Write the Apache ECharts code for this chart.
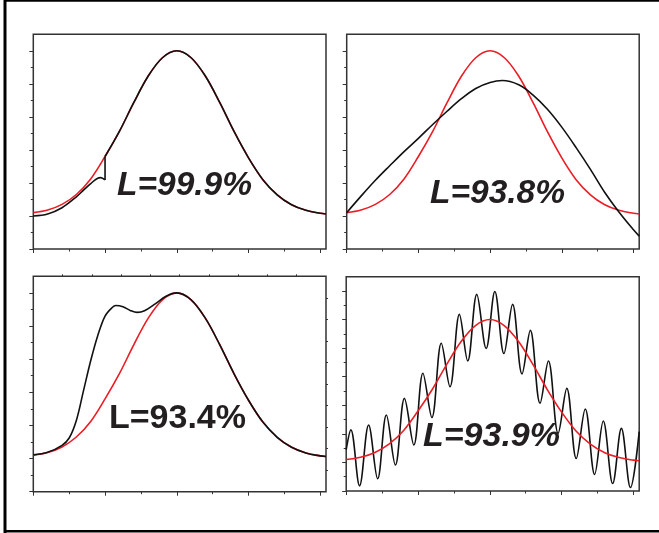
<!DOCTYPE html>
<html><head><meta charset="utf-8">
<script src="https://cdn.jsdelivr.net/npm/echarts@6/dist/echarts.min.js"></script>
<style>html,body{margin:0;padding:0;background:#fff}#c{width:659px;height:533px}</style>
</head><body><div id="c"></div>
<script>
// ---- shared x grid and reference (red) curve ----
const xs     = [0,0.2,0.4,0.6,0.8,1.0,1.2,1.4,1.6,1.8,2.0,2.2,2.4,2.6,2.8,3.0,3.2,3.4,3.6,3.8,4.0,4.08];
const redRef = [1.10,1.18,1.35,1.65,2.12,2.80,3.56,4.43,5.23,5.79,6.00,5.79,5.23,4.43,3.55,2.76,2.10,1.64,1.34,1.17,1.08,1.06];

// ---- panel 1 black (left deviating part) ----
const p1BlackX = [0,0.2,0.4,0.6,0.7,0.8,0.88,0.94,1.0];
const p1BlackY = [1.00,1.06,1.25,1.58,1.78,1.98,2.12,2.16,2.09];

// ---- panel 2 black ----
const p2BlackX = [0,0.2,0.4,0.6,0.8,1.0,1.2,1.4,1.6,1.8,2.0,2.17,2.4,2.6,2.8,3.0,3.2,3.4,3.6,3.8,4.0,4.08];
const p2BlackY = [1.10,1.60,2.08,2.52,2.95,3.35,3.77,4.17,4.55,4.86,5.04,5.10,4.97,4.66,4.23,3.69,3.07,2.41,1.71,1.11,0.58,0.39];

// ---- panel 3 black (left deviating part, joins red at x=2) ----
const p3BlackX = [0,0.2,0.4,0.5,0.6,0.7,0.8,0.9,1.0,1.1,1.15,1.25,1.35,1.45,1.55,1.7,1.85,2.0];
const p3BlackY = [1.11,1.19,1.40,1.62,2.15,3.05,3.95,4.72,5.30,5.56,5.62,5.58,5.47,5.41,5.46,5.67,5.90,6.00];

// ---- panel 4 black (oscillation extremes) ----
const p4BlackX = [0,0.065,0.186,0.312,0.438,0.559,0.685,0.811,0.942,1.068,1.193,1.324,1.445,1.576,1.692,1.818,1.949,2.070,2.196,2.317,2.448,2.564,2.699,2.816,2.951,3.072,3.203,3.329,3.459,3.580,3.711,3.832,3.958,4.08];
const p4BlackY = [1.45,2.14,0.18,2.31,0.43,2.66,0.91,3.24,1.61,4.12,2.57,5.17,3.65,6.18,4.55,6.88,4.99,6.98,4.81,6.53,4.10,5.62,3.07,4.55,2.02,3.59,1.14,2.87,0.58,2.45,0.26,2.19,0.12,2.08];

// ---- ticks ----
const xMajor = [0,1,2,3,4];
const xMinor = [0.5,1.5,2.5,3.5];
const yMajorA = [0,1,2,3,4,5,6];
const yMinorA = [0.5,1.5,2.5,3.5,4.5,5.5];
const yMajorB = [0,1,2,3,4,5,6,7];
const yMinorB = [0.5,1.5,2.5,3.5,4.5,5.5,6.5];
const secTicks = [1,2,3,4,5,6,7,8,9];

// ---- labels ----
const labels = ['L=99.9%','L=93.8%','L=93.4%','L=93.9%'];

const XMAX = 4.08;
const yMaxes = [6.5,6.5,6.5,7.5];

const RED = '#ec1c24', BLK = '#111111', FRAME = '#333333';

const zip = (a,b) => a.map((v,i)=>[v,b[i]]);

const grids = [
  {left:33.3, top:34.3, width:292.7, height:214.7},
  {left:346.7, top:34.3, width:292.5, height:214.7},
  {left:33.3, top:276.3, width:292.7, height:215.4},
  {left:346.2, top:276.7, width:293, height:214.3}
].map(g => Object.assign({show:true, borderColor:FRAME, borderWidth:1.5, backgroundColor:'transparent', containLabel:false, outerBoundsMode:'none'}, g));

function axis(gi, pos, max, vals, len) {
  return {
    type:'value', gridIndex:gi, position:pos, min:0, max:max, silent:true,
    axisLine:{show:false, onZero:false},
    axisLabel:{show:false},
    splitLine:{show:false},
    axisTick:{show:true, inside:false, length:len, customValues:vals, lineStyle:{color:FRAME, width:1}}
  };
}

const xAxis = [], yAxis = [];
for (let g=0; g<4; g++) {
  xAxis.push(axis(g,'bottom',XMAX,xMajor,4));
  xAxis.push(axis(g,'bottom',XMAX,xMinor,2.5));
  const ymaj = g===3 ? yMajorB : yMajorA;
  const ymin = g===3 ? yMinorB : yMinorA;
  yAxis.push(axis(g,'left',yMaxes[g],ymaj,4));
  yAxis.push(axis(g,'left',yMaxes[g],ymin,2.5));
}
// panel 3 secondary top / right ticks
xAxis.push(axis(2,'top',10,secTicks,2));
yAxis.push(axis(2,'right',10,secTicks,2));

function line(g, data, color, smooth, z) {
  return {type:'line', xAxisIndex:2*g, yAxisIndex:2*g, data:data, showSymbol:false, symbol:'none',
    smooth:smooth, silent:true, z:z, animation:false, clip:true,
    lineStyle:{color:color, width:1.6}};
}

const redData = zip(xs, redRef);
const series = [
  // panel 1
  line(0, redData, RED, 0.35, 2),
  line(0, zip(p1BlackX,p1BlackY), BLK, 0.35, 3),
  line(0, [[p1BlackX[p1BlackX.length-1], p1BlackY[p1BlackY.length-1]], [xs[5], redRef[5]]], BLK, false, 3),
  line(0, zip(xs.slice(5), redRef.slice(5)), BLK, 0.35, 3),
  // panel 2
  line(1, redData, RED, 0.35, 2),
  line(1, zip(p2BlackX,p2BlackY), BLK, 0.35, 3),
  // panel 3
  line(2, redData, RED, 0.35, 2),
  line(2, zip(p3BlackX.concat(xs.slice(11)), p3BlackY.concat(redRef.slice(11))), BLK, 0.35, 3),
  // panel 4
  line(3, zip(p4BlackX,p4BlackY), BLK, 0.36, 2),
  line(3, redData, RED, 0.35, 3)
];

const txtPos = [
  {x:184.5, y:186, font:'italic bold 33.5px "Liberation Sans", Arial, sans-serif'},
  {x:497.5, y:193.5, font:'italic bold 33.5px "Liberation Sans", Arial, sans-serif'},
  {x:177.5, y:419, font:'bold 34px "Liberation Sans", Arial, sans-serif'},
  {x:491.5, y:436.5, font:'italic bold 34px "Liberation Sans", Arial, sans-serif'}
];

const graphic = [
  {type:'line', shape:{x1:5, y1:0, x2:5, y2:533}, style:{stroke:'#000', lineWidth:3}, silent:true, z:50},
  {type:'line', shape:{x1:4, y1:0.8, x2:659, y2:0.8}, style:{stroke:'#000', lineWidth:2}, silent:true, z:50},
  {type:'line', shape:{x1:4, y1:531.2, x2:659, y2:531.2}, style:{stroke:'#000', lineWidth:2.5}, silent:true, z:50}
].concat(labels.map((t,i)=>({
  type:'text', x:txtPos[i].x, y:txtPos[i].y, silent:true, z:100,
  style:{text:t, font:txtPos[i].font, fill:'#231f20', align:'center', verticalAlign:'middle'}
})));

const chart = echarts.init(document.getElementById('c'), null, {renderer:'canvas'});
chart.setOption({
  animation:false,
  backgroundColor:'#ffffff',
  grid:grids, xAxis:xAxis, yAxis:yAxis, series:series, graphic:graphic
});
</script></body></html>
